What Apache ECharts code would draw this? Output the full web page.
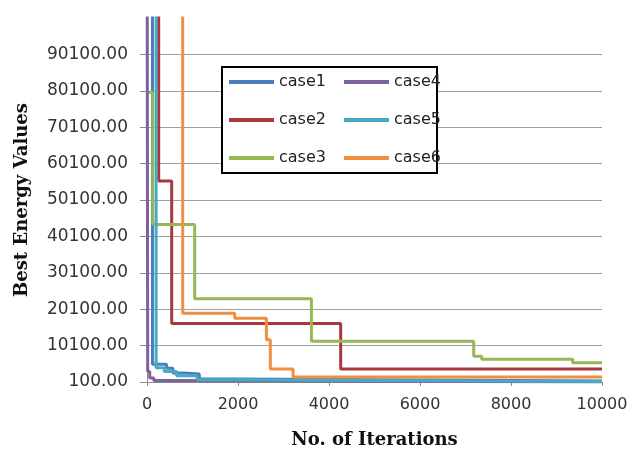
<!DOCTYPE html>
<html>
<head>
<meta charset="utf-8">
<title>Best Energy Values</title>
<script src="https://cdn.jsdelivr.net/npm/echarts@6/dist/echarts.min.js"></script>
<style>
  html, body { margin: 0; padding: 0; background: #fff; }
  #chart { width: 632px; height: 454px; }
</style>
</head>
<body>
<div id="chart"></div>
<script>
// iteration at which each best value is reached (step curves)
var caseNames = ['case1', 'case2', 'case3', 'case4', 'case5', 'case6'];
var caseColors = ['#4A7EBB', '#A8383B', '#96B854', '#7D60A0', '#46AAC5', '#F08F40'];

var case1Iter = [0, 120, 430, 570, 800, 1150, 2000, 10000];
var case1Best = [150000, 5000, 3900, 2600, 2300, 900, 400, 400];

var case2Iter = [0, 257, 543, 4257, 10000];
var case2Best = [150000, 55300, 16160, 3700, 3700];

var case3Iter = [0, 125, 1048, 3613, 7180, 7356, 9356, 10000];
var case3Best = [79700, 43400, 23000, 11270, 7190, 6380, 5370, 5370];

var case4Iter = [0, 15, 60, 150, 300, 10000];
var case4Best = [150000, 3000, 1200, 500, 100, 100];

var case5Iter = [0, 200, 380, 650, 1100, 1600, 10000];
var case5Best = [150000, 4000, 3000, 1800, 700, 250, 250];

var case6Iter = [0, 785, 1927, 2624, 2710, 3210, 10000];
var case6Best = [150000, 18960, 17600, 11730, 3660, 1500, 1500];

var xTicks = { min: 0, max: 10000, step: 2000 };
var yTicks = { min: 100, max: 100100, step: 10000 };

var iters = [case1Iter, case2Iter, case3Iter, case4Iter, case5Iter, case6Iter];
var bests = [case1Best, case2Best, case3Best, case4Best, case5Best, case6Best];

function pairs(xs, ys) {
  return xs.map(function (x, i) { return [x, ys[i]]; });
}

var chart = echarts.init(document.getElementById('chart'), null, { renderer: 'canvas' });

var series = caseNames.map(function (name, i) {
  return {
    name: name,
    type: 'line',
    step: 'end',
    data: pairs(iters[i], bests[i]),
    showSymbol: false,
    clip: true,
    color: caseColors[i],
    lineStyle: { width: 3, color: caseColors[i] }
  };
});

var legendBase = {
  orient: 'vertical',
  icon: 'rect',
  itemWidth: 45,
  itemHeight: 4,
  itemGap: 18,
  padding: 0,
  top: 72,
  selectedMode: false,
  textStyle: { fontFamily: 'DejaVu Sans', fontSize: 16, color: '#222', lineHeight: 20 },
  z: 10
};

chart.setOption({
  animation: false,
  backgroundColor: '#fff',
  grid: { left: 147, right: 30, top: 18, bottom: 68 },
  graphic: [{
    type: 'rect',
    z: 8,
    shape: { x: 222, y: 67, width: 215, height: 106 },
    style: { fill: '#fff', stroke: '#000', lineWidth: 2 }
  }],
  legend: [
    Object.assign({}, legendBase, { left: 229, data: caseNames.slice(0, 3) }),
    Object.assign({}, legendBase, { left: 344, data: caseNames.slice(3) })
  ],
  xAxis: {
    type: 'value',
    min: xTicks.min,
    max: xTicks.max,
    interval: xTicks.step,
    name: 'No. of Iterations',
    nameLocation: 'middle',
    nameGap: 49,
    nameTextStyle: { fontFamily: 'DejaVu Serif', fontWeight: 'bold', fontSize: 18, color: '#111' },
    axisLine: { show: true, lineStyle: { color: '#8a8a8a', width: 1 } },
    axisTick: { show: true, length: 4, lineStyle: { color: '#8a8a8a' } },
    axisLabel: {
      margin: 15,
      fontFamily: 'DejaVu Sans',
      fontSize: 16,
      color: '#333',
      formatter: function (v) { return String(v); }
    },
    splitLine: { show: false }
  },
  yAxis: {
    type: 'value',
    min: yTicks.min,
    max: yTicks.max,
    interval: yTicks.step,
    name: 'Best Energy Values',
    nameLocation: 'middle',
    nameGap: 116,
    nameTextStyle: { fontFamily: 'DejaVu Serif', fontWeight: 'bold', fontSize: 18, color: '#111' },
    axisLine: { show: true, lineStyle: { color: '#8a8a8a', width: 1 } },
    axisTick: { show: true, length: 7, lineStyle: { color: '#8a8a8a' } },
    axisLabel: {
      margin: 19,
      fontFamily: 'DejaVu Sans',
      fontSize: 17,
      color: '#333',
      showMaxLabel: false,
      formatter: function (v) { return v.toFixed(2); }
    },
    splitLine: { show: true, showMinLine: false, showMaxLine: false, lineStyle: { color: '#a0a0a0', width: 1 } }
  },
  series: series
});
</script>
</body>
</html>
